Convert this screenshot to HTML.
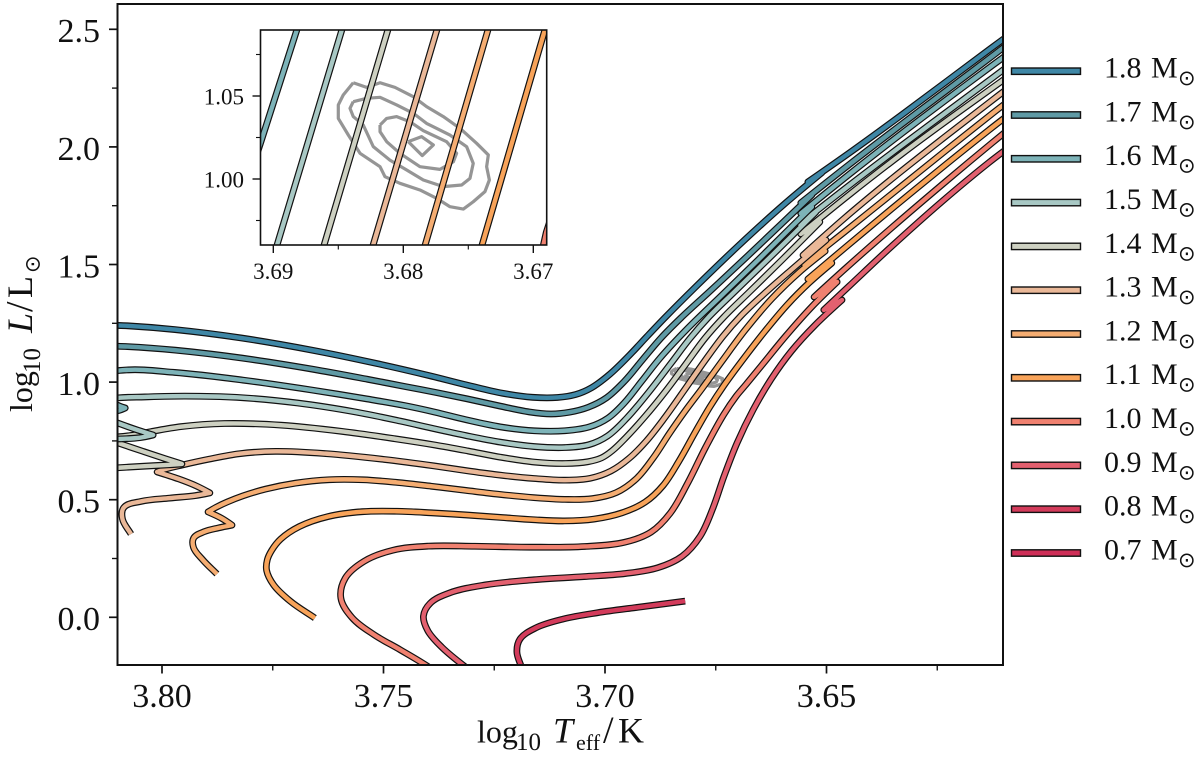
<!DOCTYPE html>
<html lang="en">
<head>
<meta charset="utf-8">
<title>Stellar evolution tracks</title>
<style>
html,body{margin:0;padding:0;background:#fff;overflow:hidden;width:1200px;height:758px;}
svg{display:block;}
text{font-family:"Liberation Serif","DejaVu Serif",serif;fill:#111;}
.sun{font-family:"DejaVu Sans",sans-serif;}
</style>
</head>
<body>
<svg id="chart" xmlns="http://www.w3.org/2000/svg" width="1200" height="758" viewBox="0 0 1200 758">
  <defs>
    <clipPath id="main-clip"><rect x="118" y="4" width="885" height="661"/></clipPath>
    <clipPath id="inset-clip"><rect x="260.5" y="30" width="286.2" height="215"/></clipPath>
  </defs>
  <rect width="1200" height="758" fill="#fff"/>
  <g id="main-plot" clip-path="url(#main-clip)"></g>
  <rect x="117.5" y="4" width="885.5" height="661" fill="none" stroke="#111" stroke-width="2"/>
  <g id="main-ticks"></g>
  <text y="742.7" font-size="33"><tspan x="477" font-size="32">log</tspan><tspan x="516" y="750" font-size="25">10</tspan><tspan x="553" y="742.7" font-size="36" font-style="italic">T</tspan><tspan x="576" y="750" font-size="22">eff</tspan><tspan x="603" y="742.7" font-size="38">/</tspan><tspan x="618" y="742.7" font-size="36">K</tspan></text>
  <text transform="translate(32,412) rotate(-90)" font-size="33"><tspan x="0" y="0" font-size="32">log</tspan><tspan x="39" y="8" font-size="25">10</tspan><tspan x="79" y="0" font-size="36" font-style="italic">L</tspan><tspan x="100" y="0" font-size="38">/</tspan><tspan x="114" y="0" font-size="36">L</tspan><tspan class="sun" x="139" y="7.5" font-size="21">⊙</tspan></text>

  <rect x="260.5" y="30" width="286.2" height="215" fill="#fff"/>
  <g id="inset-plot" clip-path="url(#inset-clip)"></g>
  <rect x="260.5" y="30" width="286.2" height="215" fill="none" stroke="#111" stroke-width="1.6"/>
  <g id="inset-ticks"></g>

  <g font-size="30">
    <g><rect x="1011.5" y="68" width="69" height="6.4" fill="#3f87a6" stroke="#111" stroke-width="1.4"/><text x="1104" y="77.6">1.8<tspan x="1151">M</tspan><tspan class="sun" x="1178" dy="7.5" font-size="21">⊙</tspan></text></g>
    <g><rect x="1011.5" y="111.8" width="69" height="6.4" fill="#5f9aa5" stroke="#111" stroke-width="1.4"/><text x="1104" y="121.4">1.7<tspan x="1151">M</tspan><tspan class="sun" x="1178" dy="7.5" font-size="21">⊙</tspan></text></g>
    <g><rect x="1011.5" y="155.6" width="69" height="6.4" fill="#7db3b8" stroke="#111" stroke-width="1.4"/><text x="1104" y="165.2">1.6<tspan x="1151">M</tspan><tspan class="sun" x="1178" dy="7.5" font-size="21">⊙</tspan></text></g>
    <g><rect x="1011.5" y="199.4" width="69" height="6.4" fill="#a8c8c4" stroke="#111" stroke-width="1.4"/><text x="1104" y="209">1.5<tspan x="1151">M</tspan><tspan class="sun" x="1178" dy="7.5" font-size="21">⊙</tspan></text></g>
    <g><rect x="1011.5" y="243.2" width="69" height="6.4" fill="#cdd0c1" stroke="#111" stroke-width="1.4"/><text x="1104" y="252.8">1.4<tspan x="1151">M</tspan><tspan class="sun" x="1178" dy="7.5" font-size="21">⊙</tspan></text></g>
    <g><rect x="1011.5" y="287" width="69" height="6.4" fill="#eab898" stroke="#111" stroke-width="1.4"/><text x="1104" y="296.6">1.3<tspan x="1151">M</tspan><tspan class="sun" x="1178" dy="7.5" font-size="21">⊙</tspan></text></g>
    <g><rect x="1011.5" y="330.8" width="69" height="6.4" fill="#f5ad72" stroke="#111" stroke-width="1.4"/><text x="1104" y="340.4">1.2<tspan x="1151">M</tspan><tspan class="sun" x="1178" dy="7.5" font-size="21">⊙</tspan></text></g>
    <g><rect x="1011.5" y="374.6" width="69" height="6.4" fill="#f8a359" stroke="#111" stroke-width="1.4"/><text x="1104" y="384.2">1.1<tspan x="1151">M</tspan><tspan class="sun" x="1178" dy="7.5" font-size="21">⊙</tspan></text></g>
    <g><rect x="1011.5" y="418.4" width="69" height="6.4" fill="#f08170" stroke="#111" stroke-width="1.4"/><text x="1104" y="428">1.0<tspan x="1151">M</tspan><tspan class="sun" x="1178" dy="7.5" font-size="21">⊙</tspan></text></g>
    <g><rect x="1011.5" y="462.2" width="69" height="6.4" fill="#e3606f" stroke="#111" stroke-width="1.4"/><text x="1104" y="471.8">0.9<tspan x="1151">M</tspan><tspan class="sun" x="1178" dy="7.5" font-size="21">⊙</tspan></text></g>
    <g><rect x="1011.5" y="506" width="69" height="6.4" fill="#d33b5b" stroke="#111" stroke-width="1.4"/><text x="1104" y="515.6">0.8<tspan x="1151">M</tspan><tspan class="sun" x="1178" dy="7.5" font-size="21">⊙</tspan></text></g>
    <g><rect x="1011.5" y="549.8" width="69" height="6.4" fill="#cf2f58" stroke="#111" stroke-width="1.4"/><text x="1104" y="559.4">0.7<tspan x="1151">M</tspan><tspan class="sun" x="1178" dy="7.5" font-size="21">⊙</tspan></text></g>
  </g>
</svg>
<script>
// ---- tick values and labels ----
const xMajorTicks = [3.80, 3.75, 3.70, 3.65];
const xMajorLabels = ['3.80', '3.75', '3.70', '3.65'];
const xMinorTicks = [3.775, 3.725, 3.675, 3.625];
const yMajorTicks = [0, 0.5, 1.0, 1.5, 2.0, 2.5];
const yMajorLabels = ['0.0', '0.5', '1.0', '1.5', '2.0', '2.5'];
const yMinorTicks = [0.25, 0.75, 1.25, 1.75, 2.25];
const insetXMajorTicks = [3.69, 3.68, 3.67];
const insetXMajorLabels = ['3.69', '3.68', '3.67'];
const insetXMinorTicks = [3.685, 3.675];
const insetYMajorTicks = [1.05, 1.00];
const insetYMajorLabels = ['1.05', '1.00'];
const insetYMinorTicks = [1.075, 1.025, 0.975];

// ---- series: effective temperature and luminosity per stellar mass ----
const masses = ['1.8', '1.7', '1.6', '1.5', '1.4', '1.3', '1.2', '1.1', '1.0', '0.9', '0.8'];
const trackColors = ['#3f87a6', '#5f9aa5', '#7db3b8', '#a8c8c4', '#cdd0c1', '#eab898', '#f5ad72', '#f8a359', '#f08170', '#e3606f', '#d33b5b'];

const logT18 = [3.8140,3.8102,3.7966,3.7817,3.7666,3.7515,3.7388,3.7312,3.7237,3.7163,3.7102,3.7068,3.7034,3.6989,3.6944,3.6898,3.6860,3.6819,3.6689,3.6582,3.6510,3.6542,3.6447,3.6334,3.6221,3.6102,3.6063];
const logL18 = [1.243,1.239,1.226,1.188,1.137,1.077,1.026,0.988,0.954,0.932,0.937,0.954,0.975,1.022,1.124,1.209,1.281,1.358,1.604,1.779,1.891,1.851,1.974,2.131,2.289,2.459,2.51];

const logT17 = [3.8140,3.8102,3.7966,3.7817,3.7666,3.7515,3.7463,3.7388,3.7312,3.7237,3.7163,3.7124,3.7086,3.7034,3.6995,3.6959,3.6914,3.6869,3.6824,3.6781,3.6684,3.6582,3.6533,3.6558,3.6447,3.6334,3.6221,3.6102,3.6063];
const logL17 = [1.154,1.149,1.141,1.102,1.056,1.005,0.983,0.958,0.932,0.898,0.869,0.867,0.873,0.898,0.932,0.996,1.102,1.200,1.281,1.353,1.523,1.711,1.796,1.762,1.932,2.089,2.250,2.421,2.476];

const logT16 = [3.8117,3.8090,3.8083,3.8090,3.8117,3.8162,3.8140,3.8102,3.7966,3.7817,3.7666,3.7515,3.7463,3.7388,3.7312,3.7237,3.7163,3.7086,3.7034,3.6995,3.6959,3.69098,3.68818,3.6815,3.6745,3.6650,3.6571,3.6533,3.6558,3.6447,3.6334,3.6221,3.6102,3.6063];
const logL16 = [0.873,0.877,0.890,0.903,0.907,0.975,1.043,1.043,1.043,1.009,0.966,0.920,0.903,0.877,0.839,0.809,0.792,0.796,0.813,0.847,0.903,1.0217,1.09,1.234,1.349,1.519,1.685,1.745,1.717,1.889,2.051,2.212,2.380,2.433];

const logT15 = [3.8140,3.8102,3.8034,3.8020,3.8043,3.8102,3.8140,3.8174,3.8151,3.8102,3.8043,3.7937,3.7846,3.7695,3.7546,3.7463,3.7395,3.7312,3.7237,3.7163,3.7086,3.7034,3.6995,3.6959,3.68972,3.68472,3.6808,3.6763,3.6718,3.6628,3.6524,3.6560,3.6447,3.6334,3.6221,3.6102,3.6063];
const logL15 = [0.758,0.762,0.758,0.775,0.788,0.826,0.856,0.881,0.932,0.924,0.932,0.941,0.937,0.915,0.869,0.830,0.805,0.775,0.745,0.724,0.724,0.741,0.767,0.839,0.96,1.09,1.188,1.285,1.362,1.528,1.723,1.672,1.842,2.000,2.157,2.327,2.382];

const logT14 = [3.8140,3.8102,3.8004,3.7971,3.7955,3.7982,3.8043,3.8102,3.8140,3.8102,3.8072,3.8020,3.7966,3.7853,3.7740,3.7591,3.7463,3.7388,3.7312,3.7237,3.7163,3.7086,3.7034,3.7011,3.6984,3.6955,3.6910,3.6861,3.68118,3.6770,3.6734,3.6680,3.6594,3.6515,3.6558,3.6447,3.6334,3.6221,3.6102,3.6063];
const logL14 = [0.631,0.635,0.648,0.648,0.652,0.669,0.703,0.745,0.767,0.767,0.771,0.788,0.809,0.826,0.822,0.788,0.754,0.733,0.711,0.682,0.656,0.654,0.665,0.682,0.707,0.762,0.856,0.96,1.09,1.200,1.277,1.362,1.536,1.681,1.630,1.800,1.966,2.123,2.280,2.336];

const logT13 = [3.8070,3.8090,3.8088,3.8056,3.7982,3.7907,3.7892,3.7914,3.7966,3.8011,3.8004,3.7953,3.7892,3.7817,3.7740,3.7666,3.7463,3.7388,3.7312,3.7237,3.7163,3.7086,3.7034,3.6989,3.6944,3.6905,3.6871,3.68233,3.67741,3.6729,3.6695,3.6646,3.6582,3.6501,3.6553,3.6447,3.6379,3.6221,3.6102,3.6063];
const logL13 = [0.354,0.426,0.465,0.490,0.511,0.511,0.529,0.554,0.592,0.618,0.626,0.648,0.669,0.699,0.703,0.703,0.665,0.643,0.622,0.605,0.592,0.584,0.592,0.618,0.682,0.754,0.835,0.96,1.09,1.209,1.277,1.362,1.477,1.604,1.540,1.719,1.825,2.059,2.233,2.289];

const logT12 = [3.7876,3.7907,3.7930,3.7930,3.7910,3.7862,3.7842,3.7858,3.7896,3.7885,3.7846,3.7817,3.7772,3.7695,3.7621,3.7546,3.7469,3.7395,3.7312,3.7237,3.7163,3.7086,3.7034,3.6973,3.6928,3.6892,3.6853,3.6819,3.67833,3.67348,3.6684,3.6628,3.6551,3.6503,3.6551,3.6447,3.6379,3.6221,3.6102,3.6063];
const logL12 = [0.184,0.244,0.299,0.337,0.363,0.380,0.392,0.422,0.448,0.469,0.486,0.520,0.541,0.571,0.588,0.584,0.571,0.558,0.541,0.520,0.511,0.503,0.507,0.529,0.584,0.682,0.792,0.881,0.96,1.09,1.217,1.358,1.481,1.557,1.502,1.655,1.761,2.000,2.178,2.233];

const logT11 = [3.7655,3.7711,3.7749,3.7767,3.7756,3.7749,3.7734,3.7695,3.7621,3.7546,3.7469,3.7395,3.7312,3.7237,3.7163,3.7086,3.7034,3.6959,3.6905,3.6871,3.6837,3.6797,3.6754,3.67395,3.6691,3.6639,3.6582,3.6546,3.6488,3.6542,3.6447,3.6379,3.6221,3.6102,3.6063];
const logL11 = [-0.003,0.061,0.137,0.210,0.239,0.282,0.329,0.384,0.435,0.448,0.448,0.444,0.435,0.426,0.414,0.414,0.414,0.444,0.499,0.554,0.656,0.788,0.924,0.96,1.09,1.217,1.341,1.413,1.506,1.438,1.587,1.698,1.940,2.119,2.174];

const logT10 = [3.7350,3.7402,3.7463,3.7515,3.7576,3.7594,3.7587,3.7546,3.7469,3.7395,3.7312,3.7163,3.7034,3.6959,3.6898,3.6853,3.6815,3.6779,3.6729,3.66923,3.669,3.6657,3.6582,3.6533,3.6476,3.6528,3.6447,3.6379,3.6221,3.6102,3.6063];
const logL10 = [-0.275,-0.203,-0.130,-0.084,0.001,0.082,0.159,0.244,0.286,0.303,0.299,0.299,0.303,0.320,0.363,0.444,0.554,0.724,0.877,0.96,0.968,1.047,1.213,1.332,1.426,1.362,1.498,1.617,1.868,2.055,2.114];

const logT09 = [3.7260,3.7321,3.7366,3.7400,3.7409,3.7391,3.7350,3.7276,3.7163,3.7034,3.6959,3.6883,3.6824,3.6786,3.6756,3.6734,3.6702,3.6666,3.6621,3.6582,3.6526,3.6465,3.6506,3.6447,3.6379,3.6244,3.6102,3.6063];
const logL09 = [-0.288,-0.203,-0.130,-0.054,0.001,0.061,0.103,0.137,0.163,0.171,0.188,0.214,0.256,0.341,0.469,0.597,0.741,0.881,1.022,1.120,1.251,1.349,1.307,1.404,1.532,1.774,1.974,2.034];

const logT08 = [3.7176,3.7185,3.7199,3.7192,3.7163,3.7086,3.7011,3.6937,3.6819];
const logL08 = [-0.275,-0.203,-0.148,-0.096,-0.045,-0.003,0.018,0.039,0.069];

// ---- grey observational contours ----
const contourOuterT = [3.68385,3.68282,3.68179,3.68064,3.67923,3.67821,3.67692,3.67564,3.67436,3.67346,3.67359,3.67338,3.67372,3.67462,3.67538,3.67641,3.67744,3.67872,3.68026,3.68141,3.68179,3.68333,3.68423,3.685,3.685,3.68462,3.68385];
const contourOuterL = [1.0580,1.0552,1.0580,1.0552,1.0496,1.0436,1.0376,1.0305,1.0215,1.0145,1.0074,0.9994,0.9924,0.9863,0.9819,0.9833,0.9884,0.9934,0.9974,1.0014,1.0074,1.0155,1.0265,1.0365,1.0446,1.0506,1.0580];
const contourMiddleT = [3.68385,3.68282,3.68179,3.68051,3.67923,3.67821,3.67641,3.67513,3.67462,3.67487,3.67551,3.67692,3.67846,3.67974,3.68103,3.68231,3.68308,3.68385,3.6841,3.68385];
const contourMiddleL = [1.0466,1.0486,1.0492,1.0446,1.0396,1.0335,1.0265,1.0195,1.0094,1.0004,0.9964,0.9954,0.9994,1.0054,1.0114,1.0195,1.0325,1.0376,1.0426,1.0466];
const contourInnerT = [3.68179,3.68128,3.68051,3.67949,3.67846,3.67667,3.6759,3.67615,3.67718,3.67872,3.68026,3.68128,3.68179,3.68179];
const contourInnerL = [1.0325,1.0365,1.0376,1.0345,1.0291,1.0225,1.0155,1.0104,1.0058,1.0074,1.0155,1.0225,1.0285,1.0325];
const contourCoreT = [3.67962,3.67859,3.67769,3.67854,3.67962];
const contourCoreL = [1.0225,1.0255,1.0205,1.0141,1.0225];

const tracksT = [logT18, logT17, logT16, logT15, logT14, logT13, logT12, logT11, logT10, logT09, logT08];
const tracksL = [logL18, logL17, logL16, logL15, logL14, logL13, logL12, logL11, logL10, logL09, logL08];
const contoursT = [contourOuterT, contourMiddleT, contourInnerT, contourCoreT];
const contoursL = [contourOuterL, contourMiddleL, contourInnerL, contourCoreL];

// ---- axis functions ----
function mainX(t) { return 162 + (3.80 - t) * 4430; }
function mainY(l) { return 617.3 - l * 235.2; }
function insetX(t) { return 273.3 + (3.69 - t) * 13000; }
function insetY(l) { return 96 + (1.05 - l) * 1660; }

const SVGNS = 'http://www.w3.org/2000/svg';
function make(parent, tag, attrs) {
  const el = document.createElementNS(SVGNS, tag);
  for (const k in attrs) el.setAttribute(k, attrs[k]);
  parent.appendChild(el);
  return el;
}

function cosTurn(a, b, c) {
  const ix = b[0] - a[0], iy = b[1] - a[1], ox = c[0] - b[0], oy = c[1] - b[1];
  return (ix * ox + iy * oy) / ((Math.hypot(ix, iy) || 1) * (Math.hypot(ox, oy) || 1));
}

// Size-preserving (Taubin) relaxation so hand-read points give a smooth curve.
function relax(points) {
  const n = points.length;
  const fixed = points.map(function (pt, i) {
    return i === 0 || i === n - 1 || cosTurn(points[i - 1], pt, points[i + 1]) < 0.3;
  });
  let p = points;
  for (let it = 0; it < 8; it++) {
    const f = it % 2 === 0 ? 0.5 : -0.53;
    p = p.map(function (pt, i) {
      if (fixed[i]) return pt;
      return [
        pt[0] + f * ((p[i - 1][0] + p[i + 1][0]) / 2 - pt[0]),
        pt[1] + f * ((p[i - 1][1] + p[i + 1][1]) / 2 - pt[1])
      ];
    });
  }
  return p;
}

function smoothPath(ts, ls, fx, fy) {
  const p = relax(ts.map(function (t, i) { return [fx(t), fy(ls[i])]; }));
  const n = p.length;
  const tan = [];
  for (let i = 0; i < n; i++) {
    if (i === 0 || i === n - 1) {
      const a = p[i === 0 ? 0 : n - 2], b = p[i === 0 ? 1 : n - 1];
      const d = Math.hypot(b[0] - a[0], b[1] - a[1]) || 1;
      tan.push([(b[0] - a[0]) / d, (b[1] - a[1]) / d]);
      continue;
    }
    const ix = p[i][0] - p[i - 1][0], iy = p[i][1] - p[i - 1][1];
    const ox = p[i + 1][0] - p[i][0], oy = p[i + 1][1] - p[i][1];
    if (ix * ox + iy * oy <= 0) { tan.push([0, 0]); continue; }
    const li = Math.hypot(ix, iy) || 1, lo = Math.hypot(ox, oy) || 1;
    const mx = ix / li + ox / lo, my = iy / li + oy / lo;
    const d = Math.hypot(mx, my) || 1;
    tan.push([mx / d, my / d]);
  }
  let s = 'M' + p[0][0].toFixed(2) + ' ' + p[0][1].toFixed(2);
  for (let i = 0; i < n - 1; i++) {
    const len = Math.hypot(p[i + 1][0] - p[i][0], p[i + 1][1] - p[i][1]) / 3;
    s += 'C' + (p[i][0] + tan[i][0] * len).toFixed(2) + ' ' + (p[i][1] + tan[i][1] * len).toFixed(2) + ' ' +
      (p[i + 1][0] - tan[i + 1][0] * len).toFixed(2) + ' ' + (p[i + 1][1] - tan[i + 1][1] * len).toFixed(2) + ' ' +
      p[i + 1][0].toFixed(2) + ' ' + p[i + 1][1].toFixed(2);
  }
  return s;
}

function polyPath(ts, ls, fx, fy) {
  return ts.map(function (t, i) {
    return (i ? 'L' : 'M') + fx(t).toFixed(2) + ' ' + fy(ls[i]).toFixed(2);
  }).join('');
}

// Straight segments limited to the inset's window (Liang-Barsky).
function clippedPath(ts, ls, fx, fy, box) {
  let s = '';
  let lastX = null, lastY = null;
  for (let i = 0; i < ts.length - 1; i++) {
    const x0 = fx(ts[i]), y0 = fy(ls[i]), x1 = fx(ts[i + 1]), y1 = fy(ls[i + 1]);
    const dx = x1 - x0, dy = y1 - y0;
    let a = 0, b = 1, ok = true;
    [[-dx, x0 - box[0]], [dx, box[2] - x0], [-dy, y0 - box[1]], [dy, box[3] - y0]].forEach(function (pq) {
      if (pq[0] === 0) { if (pq[1] < 0) ok = false; return; }
      const r = pq[1] / pq[0];
      if (pq[0] < 0) a = Math.max(a, r); else b = Math.min(b, r);
    });
    if (!ok || a > b) continue;
    const ax = x0 + a * dx, ay = y0 + a * dy, bx = x0 + b * dx, by = y0 + b * dy;
    if (lastX === null || Math.abs(lastX - ax) > 0.01 || Math.abs(lastY - ay) > 0.01) {
      s += 'M' + ax.toFixed(2) + ' ' + ay.toFixed(2);
    }
    s += 'L' + bx.toFixed(2) + ' ' + by.toFixed(2);
    lastX = bx;
    lastY = by;
  }
  return s;
}

const insetWindow = [254, 24, 553, 251];

function drawSeries(group, fx, fy, prefix, isInset) {
  contoursT.forEach(function (ts, i) {
    const c = make(group, 'path', { d: polyPath(ts, contoursL[i], fx, fy), fill: 'none', stroke: '#959595', 'stroke-width': 3.2, 'stroke-linejoin': 'round' });
    
    
  });
  for (let i = tracksT.length - 1; i >= 0; i--) {
    const d = isInset ? clippedPath(tracksT[i], tracksL[i], fx, fy, insetWindow) : smoothPath(tracksT[i], tracksL[i], fx, fy);
    if (!d) continue;
    const g = make(group, 'g', {});
    
    
    const o = make(g, 'path', { d: d, fill: 'none', stroke: '#111', 'stroke-width': 6.8, 'stroke-linejoin': 'round', 'stroke-linecap': 'butt' });
    
    
    const f = make(g, 'path', { d: d, fill: 'none', stroke: trackColors[i], 'stroke-width': 4.4, 'stroke-linejoin': 'round', 'stroke-linecap': 'butt' });
    
    
  }
}

function drawTicks(group, opts) {
  opts.xMajor.forEach(function (v, i) {
    const x = opts.fx(v);
    const t = make(group, 'line', { x1: x, x2: x, y1: opts.bottom, y2: opts.bottom + opts.major, stroke: '#111', 'stroke-width': opts.sw });
    
    
    const l = make(group, 'text', { x: x, y: opts.xLabelY, 'text-anchor': 'middle', 'font-size': opts.font });
    l.textContent = opts.xLabels[i];
    
    
  });
  opts.xMinor.forEach(function (v) {
    const x = opts.fx(v);
    const t = make(group, 'line', { x1: x, x2: x, y1: opts.bottom, y2: opts.bottom + opts.minor, stroke: '#111', 'stroke-width': opts.sw * 0.8 });
    
    
  });
  opts.yMajor.forEach(function (v, i) {
    const y = opts.fy(v);
    const t = make(group, 'line', { x1: opts.left - opts.major, x2: opts.left, y1: y, y2: y, stroke: '#111', 'stroke-width': opts.sw });
    
    
    const l = make(group, 'text', { x: opts.yLabelX, y: y + opts.font * 0.38, 'text-anchor': 'end', 'font-size': opts.font });
    l.textContent = opts.yLabels[i];
    
    
  });
  opts.yMinor.forEach(function (v) {
    const y = opts.fy(v);
    const t = make(group, 'line', { x1: opts.left - opts.minor, x2: opts.left, y1: y, y2: y, stroke: '#111', 'stroke-width': opts.sw * 0.8 });
    
    
  });
}

drawSeries(document.getElementById('main-plot'), mainX, mainY, 'main-', false);
drawSeries(document.getElementById('inset-plot'), insetX, insetY, 'inset-', true);

drawTicks(document.getElementById('main-ticks'), {
  fx: mainX, fy: mainY, left: 117.5, bottom: 665, major: 8.5, minor: 5.5, sw: 1.7, font: 34,
  xMajor: xMajorTicks, xLabels: xMajorLabels, xMinor: xMinorTicks,
  yMajor: yMajorTicks, yLabels: yMajorLabels, yMinor: yMinorTicks,
  xLabelY: 707, yLabelX: 100
});
drawTicks(document.getElementById('inset-ticks'), {
  fx: insetX, fy: insetY, left: 260.5, bottom: 245, major: 8, minor: 4.5, sw: 1.4, font: 23,
  xMajor: insetXMajorTicks, xLabels: insetXMajorLabels, xMinor: insetXMinorTicks,
  yMajor: insetYMajorTicks, yLabels: insetYMajorLabels, yMinor: insetYMinorTicks,
  xLabelY: 279, yLabelX: 244
});
</script>
</body>
</html>
